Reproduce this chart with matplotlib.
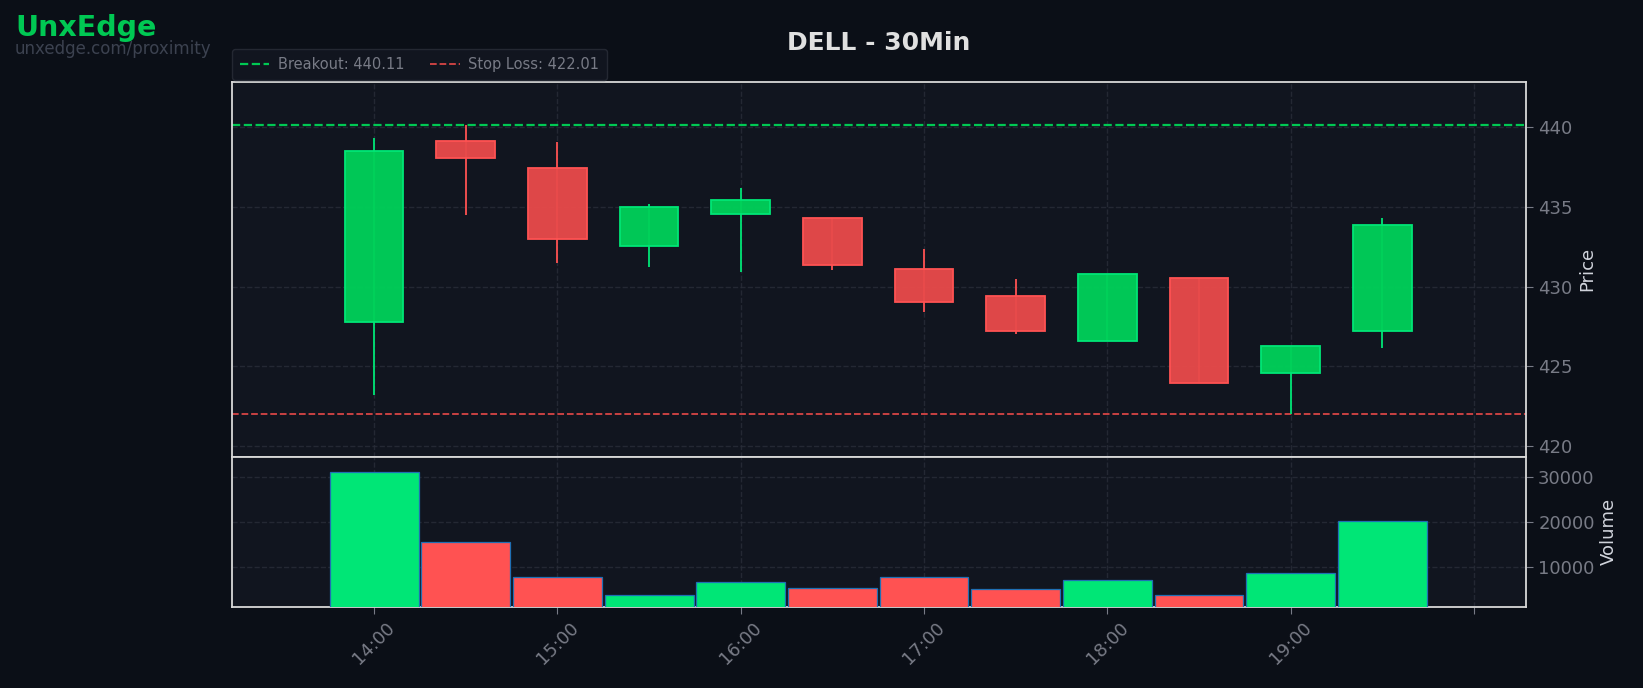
import matplotlib.pyplot as plt
from matplotlib.lines import Line2D

# 30 min candles, DELL
times = ["14:00", "14:30", "15:00", "15:30", "16:00", "16:30",
         "17:00", "17:30", "18:00", "18:30", "19:00", "19:30"]
opens = [427.77, 439.14, 437.45, 432.54, 434.55, 434.32, 431.12, 429.43, 426.60, 430.55, 424.60, 427.24]
highs = [439.29, 440.11, 439.04, 435.15, 436.15, 434.32, 432.37, 430.49, 430.80, 430.55, 426.29, 434.27]
lows = [423.20, 434.48, 431.47, 431.22, 430.91, 431.03, 428.40, 427.04, 426.60, 423.97, 422.01, 426.17]
closes = [438.52, 438.06, 432.98, 435.01, 435.44, 431.35, 429.05, 427.24, 430.80, 423.97, 426.29, 433.88]
volumes = [31260, 15720, 7840, 3830, 6730, 5470, 7840, 5170, 7250, 3830, 8740, 20340]

breakout = 440.11
stop_loss = 422.01
tick_hours = [14, 15, 16, 17, 18, 19, 20]
tick_labels = ["14:00", "15:00", "16:00", "17:00", "18:00", "19:00", ""]

BG = "#0b0f17"
PANEL = "#11151f"
GREEN = "#00e676"
RED = "#ff5252"
GREEN_BODY = (0.0, 0.815, 0.35, 0.96)
RED_BODY = (0.91, 0.29, 0.29, 0.96)
GRID = "#2a2e39"
TXT = "#787b86"

x = [int(t[:2]) + int(t[3:]) / 60 for t in times]

fig = plt.figure(figsize=(16.43, 6.88), dpi=100, facecolor=BG)
ax = fig.add_axes([0.141, 0.336, 0.788, 0.545])
axv = fig.add_axes([0.141, 0.118, 0.788, 0.218], sharex=ax)

for a in (ax, axv):
    a.set_facecolor(PANEL)
    for s in a.spines.values():
        s.set_color("#d8d8d8")
        s.set_linewidth(1.3)
    a.grid(True, color=GRID, linestyle="--", linewidth=1.0, alpha=0.8)
    a.set_axisbelow(True)
    a.yaxis.tick_right()
    a.yaxis.set_label_position("right")
    a.tick_params(colors=TXT, labelsize=13, length=5)

for xi, o, h, l, c in zip(x, opens, highs, lows, closes):
    up = c >= o
    col = GREEN if up else RED
    ax.vlines(xi, l, h, color=col, linewidth=1.3, zorder=2)
    ax.bar(xi, abs(c - o), bottom=min(o, c), width=0.32,
           color=GREEN_BODY if up else RED_BODY,
           edgecolor=col, linewidth=1.3, zorder=3)

ax.axhline(breakout, color="#00c853", linestyle="--", linewidth=1.6, zorder=1)
ax.axhline(stop_loss, color="#d84545", linestyle="--", linewidth=1.3, zorder=1)

ax.set_xlim(13.223, 20.286)
ax.set_ylim(419.34, 442.82)
ax.set_yticks([420, 425, 430, 435, 440])
ax.set_ylabel("Price", color="#d1d4dc", fontsize=13)
ax.tick_params(axis="x", labelbottom=False)

vcols = [GREEN if c >= o else RED for o, c in zip(opens, closes)]
axv.bar(x, volumes, width=0.485, color=vcols, edgecolor="#1f6fb4", linewidth=0.9, zorder=3)
axv.set_ylim(1200, 34600)
axv.set_yticks([10000, 20000, 30000])
axv.set_ylabel("Volume", color="#d1d4dc", fontsize=13)
axv.set_xticks(tick_hours)
axv.set_xticklabels(tick_labels, rotation=45)

handles = [Line2D([], [], color="#00c853", linestyle="--", linewidth=1.6),
           Line2D([], [], color="#d84545", linestyle="--", linewidth=1.3)]
leg = ax.legend(handles, ["Breakout: %.2f" % breakout, "Stop Loss: %.2f" % stop_loss],
                loc="lower left", bbox_to_anchor=(0, 1.005), ncol=2, fontsize=10.5,
                frameon=True, facecolor="#131722", edgecolor=GRID, labelcolor=TXT,
                borderaxespad=0, borderpad=0.55, columnspacing=1.8, handletextpad=0.6)

fig.text(0.535, 0.9375, "DELL - 30Min", color="#e0e0e0", fontsize=18,
         fontweight="bold", ha="center", va="center")
fig.text(0.0091, 0.9477, "UnxEdge", color="#00c853", fontsize=20.5, fontweight="bold",
         ha="left", va="baseline")
fig.text(0.0091, 0.921, "unxedge.com/proximity", color="#3c4250", fontsize=12,
         ha="left", va="baseline")

fig.savefig("out.png", dpi=100, facecolor=BG)
